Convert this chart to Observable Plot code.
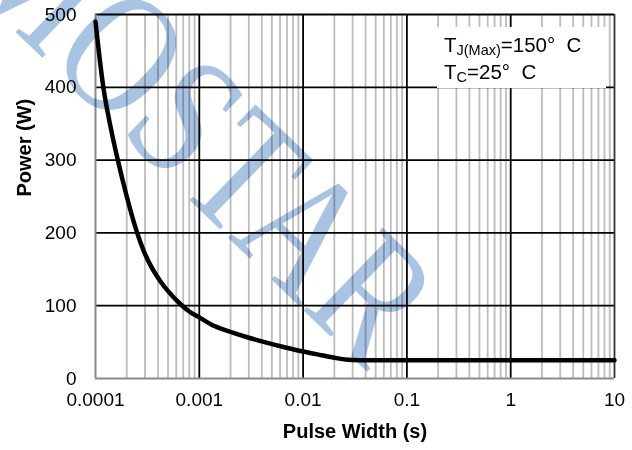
<!DOCTYPE html>
<html>
<head>
<meta charset="utf-8">
<script src="https://cdn.jsdelivr.net/npm/d3@7"></script>
<script src="https://cdn.jsdelivr.net/npm/@observablehq/plot@0.6"></script>
<style>
  html, body { margin: 0; padding: 0; background: white; }
  #chart { width: 632px; height: 450px; }
</style>
</head>
<body>
<div id="chart"></div>
<script>
// ---- data ----
const pulseWidth = [1e-4, 1.19e-4, 1.4e-4, 1.64e-4, 2e-4, 2.52e-4, 2.9e-4, 3.4e-4, 4.2e-4, 5e-4, 6.6e-4, 8e-4, 1e-3, 1.4e-3, 2.1e-3, 3e-3, 4e-3, 6.6e-3, 1e-2, 1.5e-2, 2.1e-2, 2.7e-2, 3.5e-2, 5e-2, 10];
const power      = [490, 400, 345, 300, 250, 200, 176, 155, 134, 120, 102, 92, 84, 72, 63, 56, 51, 43, 37, 32, 28, 25.6, 25.1, 25, 25];
const xMajorTicks = [1e-4, 1e-3, 1e-2, 1e-1, 1, 10];
const xTickLabels = ["0.0001", "0.001", "0.01", "0.1", "1", "10"];
const yTicks = [0, 100, 200, 300, 400, 500];
const xMinorTicks = xMajorTicks.slice(0, -1).flatMap(d => [2,3,4,5,6,7,8,9].map(k => +(d * k).toPrecision(3)));
const xLabel = "Pulse Width (s)";
const yLabel = "Power (W)";
const watermark = "MOSTAR";

const curve = pulseWidth.map((x, i) => ({x, y: power[i]}));

const plot = Plot.plot({
  width: 632,
  height: 450,
  marginLeft: 95,
  marginRight: 18,
  marginTop: 14,
  marginBottom: 72,
  style: {fontFamily: "'Liberation Sans', Arial, sans-serif", fontSize: "19px", color: "black", background: "white"},
  x: {type: "log", domain: [1e-4, 10]},
  y: {domain: [0, 500]},
  marks: [
    Plot.ruleX(xMinorTicks, {stroke: "#bdbdbd", strokeWidth: 1.8}),
    Plot.ruleX(xMajorTicks.slice(1, -1), {stroke: "black", strokeWidth: 1.8}),
    Plot.ruleY(yTicks.slice(1), {stroke: "black", strokeWidth: 1.8}),
    Plot.ruleX([1e-4], {stroke: "#8a8a8a", strokeWidth: 2}),
    Plot.ruleX([10], {stroke: "#333", strokeWidth: 1.8}),
    Plot.ruleY([0], {stroke: "#8a8a8a", strokeWidth: 2}),
    Plot.line(curve, {x: "x", y: "y", stroke: "black", strokeWidth: 4.5, curve: "monotone-x"}),
    Plot.axisX(xMajorTicks, {tickSize: 0, tickPadding: 14, tickFormat: d => xTickLabels[xMajorTicks.indexOf(d)], fontSize: 19, label: null}),
    Plot.axisY(yTicks, {tickSize: 0, tickPadding: 19, fontSize: 19, label: null}),
    Plot.text([xLabel], {frameAnchor: "bottom", dy: 59, fontWeight: "bold", fontSize: 20}),
    Plot.text([yLabel], {frameAnchor: "left", dx: -71, rotate: -90, fontWeight: "bold", fontSize: 20})
  ]
});

document.getElementById("chart").appendChild(plot);

// legend box (inside plot area, top right)
const svg = d3.select(plot);
const leg = svg.append("g")
  .attr("font-family", "'Liberation Sans', Arial, sans-serif")
  .attr("fill", "black")
  .attr("text-anchor", "start");
leg.append("rect").attr("x", 437).attr("y", 27).attr("width", 169).attr("height", 61).attr("fill", "white");
const t1 = leg.append("text").attr("x", 444).attr("y", 52).attr("font-size", 20.5);
t1.append("tspan").text("T");
t1.append("tspan").attr("font-size", 14.5).attr("dy", 3).text("J(Max)");
t1.append("tspan").attr("dy", -3).text("=150°\u00a0\u00a0C");
const t2 = leg.append("text").attr("x", 444).attr("y", 78.5).attr("font-size", 20.5);
t2.append("tspan").text("T");
t2.append("tspan").attr("font-size", 14.5).attr("dy", 3).text("C");
t2.append("tspan").attr("dy", -3).text("=25°\u00a0\u00a0C");

// watermark
svg.append("text")
  .attr("transform", "translate(204,129) rotate(44) scale(0.8,1)")
  .attr("text-anchor", "middle")
  .attr("dy", "0.35em")
  .attr("font-family", "'Liberation Serif', 'Times New Roman', serif")
  .attr("font-size", 175)
  .attr("fill", "#a9c3e3")
  .style("mix-blend-mode", "multiply")
  .text(watermark);
</script>
</body>
</html>
